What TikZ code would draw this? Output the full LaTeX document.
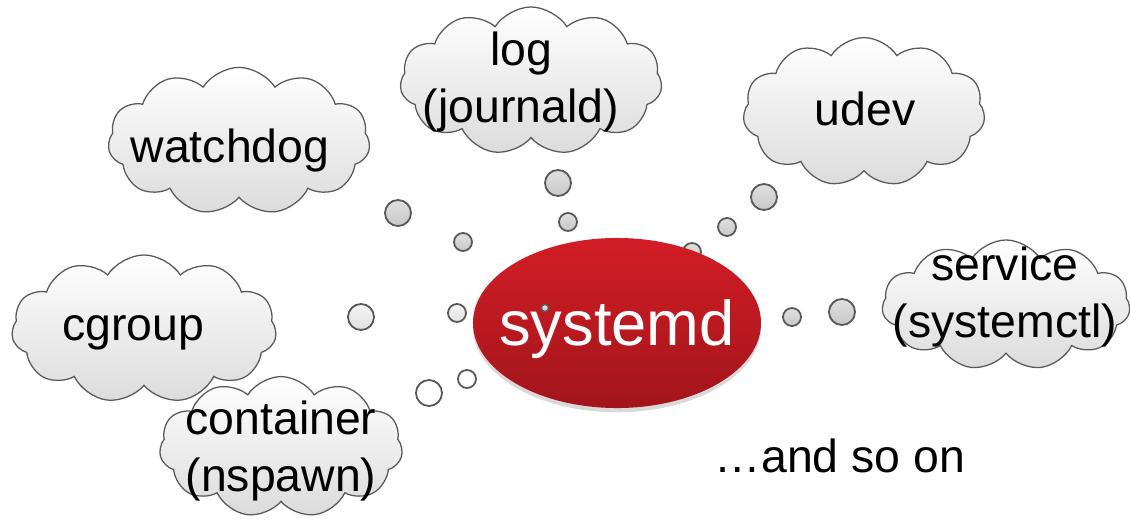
\documentclass[tikz,border=0pt]{standalone}
\usepackage{fontspec}
\setmainfont{Liberation Sans}
\usetikzlibrary{shapes.symbols,shapes.geometric,shadows}

\definecolor{bubbleline}{HTML}{595959}
\definecolor{sysred}{HTML}{D31D25}
\definecolor{sysdark}{HTML}{A2151B}

\begin{document}
\begin{tikzpicture}[x=0.025cm,y=-0.025cm,
    thought/.style={cloud,cloud puffs=11,cloud puff arc=115,cloud ignores aspect,
        draw=bubbleline,line width=0.9pt,top color=white,bottom color=black!14,inner sep=0pt},
    word/.style={font=\fontsize{33}{40.5}\selectfont,align=center,inner sep=0pt},
    bubble/.style={circle,draw=bubbleline,line width=1.3pt,top color=black!12,
        bottom color=black!22,inner sep=0pt,minimum size=0.45cm},
    big/.style={minimum size=0.65cm},
    pale/.style={top color=black!4,bottom color=black!12},
    blank/.style={top color=white,bottom color=white}]
    \useasboundingbox (0,0) rectangle (1130,520);

    % Bubble hidden behind the core
    \node[bubble] (b0) at (692,252) {};

    % Core
    \node[ellipse,minimum width=7.2cm,minimum height=4.25cm,inner sep=0pt,
        top color=sysred,bottom color=sysdark,
        drop shadow={opacity=0.3,shadow xshift=0pt,shadow yshift=-3pt}] (systemd) at (617,323) {};
    \node[text=white,font=\fontsize{45}{54}\selectfont,inner sep=0pt,anchor=base] (systemdtxt) at (617,345) {systemd};

    % Clouds
    \node[thought,minimum width=6.55cm,minimum height=3.7cm] (log) at (531,81) {};
    \node[thought,minimum width=6.55cm,minimum height=3.68cm] (watchdog) at (239,141) {};
    \node[thought,minimum width=6.05cm,minimum height=3.72cm] (udev) at (864,112) {};
    \node[thought,minimum width=6.2cm,minimum height=3.25cm] (service) at (1006,305) {};
    \node[thought,minimum width=6.62cm,minimum height=3.7cm] (cgroup) at (144,329) {};
    \node[thought,minimum width=6.08cm,minimum height=3.52cm] (container) at (281,447) {};

    % Labels
    \node[word] (logtxt) at (521,82) {log\\(journald)};
    \node[word,anchor=base] (watchdogtxt) at (230,162) {watchdog};
    \node[word,anchor=base] (udevtxt) at (865,125) {udev};
    \node[word] (servicetxt) at (1005,297) {service\\(systemctl)};
    \node[word,anchor=base] (cgrouptxt) at (133,340) {cgroup};
    \node[word] (containertxt) at (281,451) {container\\(nspawn)};
    \node[word,anchor=base] (etc) at (840,472) {…and so on};

    % Thought bubbles
    \foreach \bx/\by [count=\i] in {558/183,398/213,764/197,842/312}
        \node[bubble,big] (g\i) at (\bx,\by) {};
    \foreach \bx/\by [count=\i] in {568/222,463/242,727/227,792/317}
        \node[bubble] (s\i) at (\bx,\by) {};
    \node[bubble,big,pale] (p1) at (361,317) {};
    \node[bubble,pale] (p2) at (457,313) {};
    \node[bubble,big,blank] (w1) at (429,393) {};
    \node[bubble,blank] (w2) at (467,379) {};
    \node[bubble,minimum size=0.18cm,line width=1pt] (dot) at (545,308) {};
\end{tikzpicture}
\end{document}
